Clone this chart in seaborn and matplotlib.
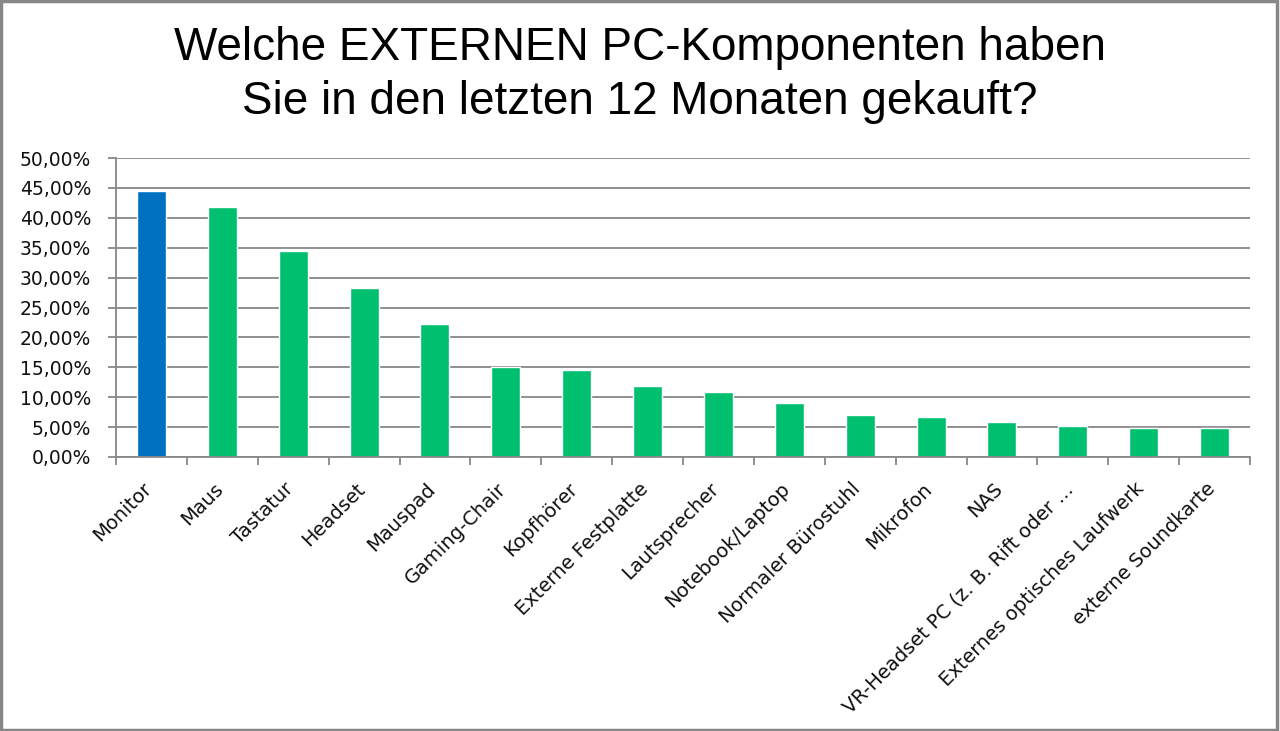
import matplotlib
matplotlib.use("Agg")
import matplotlib.pyplot as plt
import matplotlib.ticker as mticker
import matplotlib.transforms as mtransforms
import pandas as pd
import seaborn as sns

# Daten
komponenten = [
    "Monitor", "Maus", "Tastatur", "Headset", "Mauspad", "Gaming-Chair",
    "Kopfhörer", "Externe Festplatte", "Lautsprecher", "Notebook/Laptop",
    "Normaler Bürostuhl", "Mikrofon", "NAS", "VR-Headset PC (z. B. Rift oder ...",
    "Externes optisches Laufwerk", "externe Soundkarte",
]
anteile = [0.444, 0.418, 0.345, 0.283, 0.222, 0.151, 0.145, 0.119, 0.1095,
           0.090, 0.071, 0.0677, 0.058, 0.0514, 0.0493, 0.049]
farben = ["#0070C0"] + ["#00BF6F"] * (len(komponenten) - 1)
y_ticks = [i * 0.05 for i in range(11)]

titel = "Welche EXTERNEN PC-Komponenten haben\nSie in den letzten 12 Monaten gekauft?"

sns.set_theme(style="white")
plt.rcParams['font.family'] = ['DejaVu Sans']

df = pd.DataFrame({"Komponente": komponenten, "Anteil": anteile})

fig = plt.figure(figsize=(12.8, 7.31), dpi=100)
ax = fig.add_axes([116 / 1280, 1 - 457 / 731, (1250 - 116) / 1280, (457 - 158) / 731])

sns.barplot(data=df, x="Komponente", y="Anteil", hue="Komponente",
            palette=farben, legend=False, width=0.41, saturation=1, ax=ax)

grau = "#878787"
ax.set_ylim(0, 0.5)
ax.set_xlim(-0.5, len(komponenten) - 0.5)
ax.set_yticks(y_ticks)
ax.yaxis.set_major_formatter(mticker.FuncFormatter(lambda v, p: f"{v * 100:.2f}%".replace(".", ",")))
ax.grid(True, axis="y", color=grau, linewidth=1.3)
ax.set_axisbelow(True)

for s in ["top", "right"]:
    ax.spines[s].set_visible(False)
for s in ["left", "bottom"]:
    ax.spines[s].set_color(grau)
    ax.spines[s].set_linewidth(1.3)

# Tickmarken zwischen den Kategorien
ax.set_xticks(range(len(komponenten)))
ax.set_xticklabels(komponenten, rotation=45, ha="right", rotation_mode="anchor")
ax.set_xticks([i - 0.5 for i in range(len(komponenten) + 1)], minor=True)
ax.tick_params(axis="x", which="major", length=0, pad=16, labelsize=14, labelcolor="#111111")
ax.tick_params(axis="x", which="minor", length=6, width=1.3, color=grau, bottom=True)
ax.tick_params(axis="y", length=6, width=1.3, color=grau, left=True, labelsize=13.5,
               labelcolor="#111111", pad=12)
ax.set_xlabel("")
ax.set_ylabel("")

# Beschriftungen etwas nach links verschieben
verschiebung = mtransforms.ScaledTranslation(-9 / 100, 0, fig.dpi_scale_trans)
for lbl in ax.get_xticklabels():
    lbl.set_transform(lbl.get_transform() + verschiebung)

fig.text(0.5, 1 - 75 / 731, titel, ha="center", va="center", fontsize=33,
         color="black", family=["Liberation Sans", "DejaVu Sans"], linespacing=1.27)

# Rahmen um das ganze Bild
fig.patches.append(plt.Rectangle((0.001, 0.002), 0.997, 0.996, transform=fig.transFigure,
                                 fill=False, edgecolor=grau, linewidth=2.5))

fig.savefig("out.png", dpi=100)
